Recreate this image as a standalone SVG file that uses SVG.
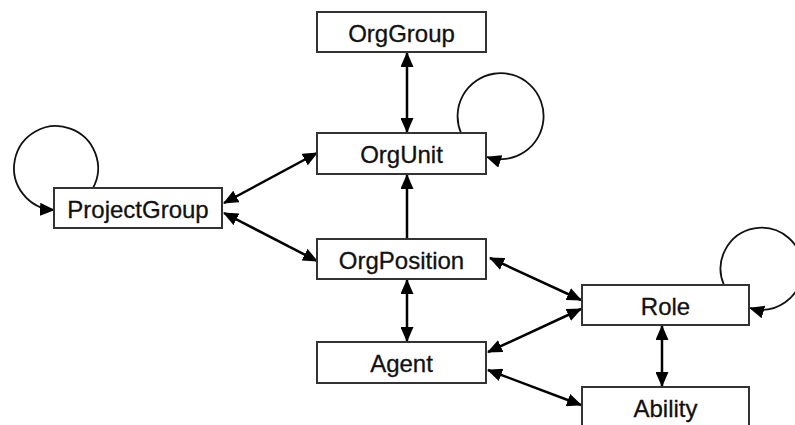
<svg xmlns="http://www.w3.org/2000/svg" width="795" height="425" viewBox="0 0 795 425">
  <defs>
    <marker id="head" markerUnits="userSpaceOnUse" markerWidth="15" markerHeight="13" refX="14" refY="6.5" orient="auto-start-reverse" viewBox="0 0 15 13">
      <path d="M0,0 L15,6.5 L0,13 Z" fill="#000"/>
    </marker>
    <style>
      .box { fill: #fff; stroke: #333; stroke-width: 2; }
      .label { font-family: "Liberation Sans", Arial, sans-serif; font-size: 24px; fill: #111; text-anchor: middle; stroke: #111; stroke-width: 0.3; }
      .edge { fill: none; stroke: #000; stroke-width: 2.5; }
      .loop { fill: none; stroke: #111; stroke-width: 1.8; }
    </style>
  </defs>

  <rect width="795" height="425" fill="#fff"/>

  <!-- connectors -->
  <g id="connectors">
    <line class="edge" x1="407" y1="53" x2="407" y2="132" marker-start="url(#head)" marker-end="url(#head)"/>
    <line class="edge" x1="407" y1="238" x2="407" y2="175" marker-end="url(#head)"/>
    <line class="edge" x1="407" y1="280" x2="407" y2="341" marker-start="url(#head)" marker-end="url(#head)"/>
    <line class="edge" x1="224" y1="203" x2="317" y2="153" marker-start="url(#head)" marker-end="url(#head)"/>
    <line class="edge" x1="224" y1="213" x2="317" y2="261" marker-start="url(#head)" marker-end="url(#head)"/>
    <line class="edge" x1="490" y1="258" x2="581" y2="300" marker-start="url(#head)" marker-end="url(#head)"/>
    <line class="edge" x1="488" y1="352" x2="581" y2="309" marker-start="url(#head)" marker-end="url(#head)"/>
    <line class="edge" x1="488" y1="370" x2="581" y2="405" marker-start="url(#head)" marker-end="url(#head)"/>
    <line class="edge" x1="662" y1="326" x2="662" y2="386" marker-start="url(#head)" marker-end="url(#head)"/>
    <!-- self loops -->
    <path class="loop" d="M461,133 A43,43 0 1 1 487,157" marker-end="url(#head)"/>
    <path class="loop" d="M93,188 A42,42 0 1 0 54,210" marker-end="url(#head)"/>
    <path class="loop" d="M724,285 A41,41 0 1 1 750,308" marker-end="url(#head)"/>
  </g>

  <g id="OrgGroup">
    <rect class="box" x="317" y="12" width="169" height="40"/>
    <text class="label" x="401.5" y="41.5">OrgGroup</text>
  </g>
  <g id="OrgUnit">
    <rect class="box" x="317" y="133" width="169" height="41"/>
    <text class="label" x="401.5" y="163">OrgUnit</text>
  </g>
  <g id="ProjectGroup">
    <rect class="box" x="54" y="188" width="168" height="40"/>
    <text class="label" x="138" y="217.5">ProjectGroup</text>
  </g>
  <g id="OrgPosition">
    <rect class="box" x="317" y="239" width="169" height="40"/>
    <text class="label" x="401.5" y="268.5">OrgPosition</text>
  </g>
  <g id="Agent">
    <rect class="box" x="317" y="342" width="169" height="41"/>
    <text class="label" x="401.5" y="372">Agent</text>
  </g>
  <g id="Role">
    <rect class="box" x="582" y="285" width="167" height="40"/>
    <text class="label" x="665.5" y="314.5">Role</text>
  </g>
  <g id="Ability">
    <rect class="box" x="582" y="387" width="167" height="42"/>
    <text class="label" x="665.5" y="417">Ability</text>
  </g>
</svg>
